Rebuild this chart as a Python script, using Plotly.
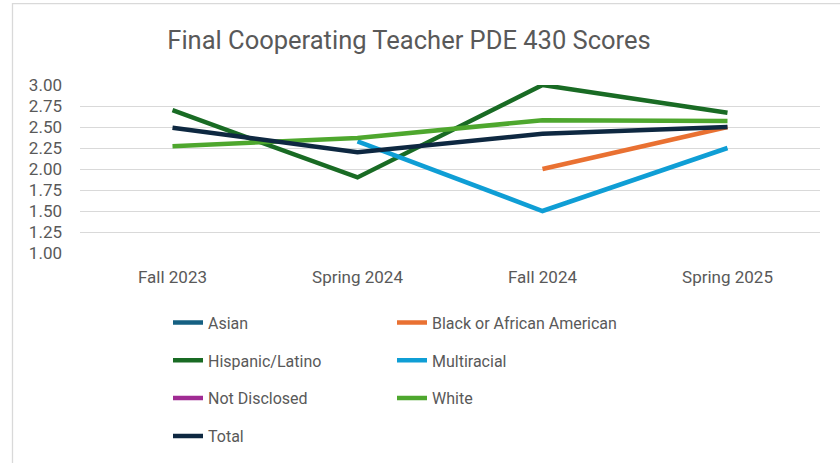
import plotly.graph_objects as go

categories = ["Fall 2023", "Spring 2024", "Fall 2024", "Spring 2025"]

asian = [None, None, None, None]
black = [None, None, 2.00, 2.50]
hispanic = [2.70, 1.90, 3.00, 2.67]
multiracial = [None, 2.33, 1.50, 2.25]
not_disclosed = [None, None, None, None]
white = [2.27, 2.37, 2.58, 2.57]
total = [2.49, 2.20, 2.42, 2.50]

y_ticks = [1.00, 1.25, 1.50, 1.75, 2.00, 2.25, 2.50, 2.75, 3.00]

series = [
    ("Asian", asian, "#156082", "legend"),
    ("Black or African American", black, "#E97132", "legend2"),
    ("Hispanic/Latino", hispanic, "#196B24", "legend"),
    ("Multiracial", multiracial, "#0F9ED5", "legend2"),
    ("Not Disclosed", not_disclosed, "#A02B93", "legend"),
    ("White", white, "#4EA72E", "legend2"),
    ("Total", total, "#0E2841", "legend"),
]

FONT = "Roboto, 'Open Sans', sans-serif"
GREY = "#595959"

fig = go.Figure()
for name, vals, color, leg in series:
    fig.add_trace(go.Scatter(
        x=categories, y=vals, name=name, mode="lines",
        line=dict(color=color, width=4.5),
        legend=leg, legendgroup=name, showlegend=True,
        connectgaps=False,
    ))

L, R, T = 80, 20, 85
B = 463 - 253.3
W = 840 - L - R
H = 463 - T - B

def px(x):
    return (x - L) / W

def py(y):
    return (463 - B - y) / H

legend_common = dict(
    orientation="v", xanchor="left", yanchor="top",
    font=dict(family=FONT, size=16, color=GREY),
    bgcolor="rgba(0,0,0,0)", tracegroupgap=14, itemwidth=30,
    traceorder="grouped",
)

fig.update_layout(
    width=840, height=463,
    margin=dict(l=L, r=R, t=T, b=B, autoexpand=False),
    paper_bgcolor="white", plot_bgcolor="white",
    title=dict(
        text="Final Cooperating Teacher PDE 430 Scores",
        font=dict(family=FONT, size=25.5, color=GREY),
        x=409 / 840, xref="container", xanchor="center",
        y=1 - 40 / 463, yref="container", yanchor="middle",
    ),
    xaxis=dict(
        type="category", categoryorder="array", categoryarray=categories,
        range=[-0.5, 3.5], showgrid=False, zeroline=False, showline=False,
        ticks="", tickfont=dict(family=FONT, size=17, color=GREY),
        ticklabelstandoff=12, fixedrange=True,
    ),
    yaxis=dict(
        range=[1, 3], tickvals=y_ticks, ticktext=[f"{v:.2f}" for v in y_ticks],
        showgrid=True, gridcolor="#D9D9D9", gridwidth=1.3, zeroline=False,
        showline=False, ticks="", tickfont=dict(family=FONT, size=17, color=GREY),
        ticklabelstandoff=17, fixedrange=True,
    ),
    legend=dict(x=px(168), y=py(306), **legend_common),
    legend2=dict(x=px(392), y=py(306), **legend_common),
    shapes=[dict(
        type="rect", xref="paper", yref="paper",
        x0=px(12.5), x1=px(900), y0=py(520), y1=py(3.5),
        line=dict(color="#D9D9D9", width=1.3), fillcolor="rgba(0,0,0,0)",
        layer="below",
    )],
)

fig.write_html(
    "out.html",
    config={"displayModeBar": False},
    post_script="document.body.style.margin='0';document.body.style.overflow='hidden';",
)
